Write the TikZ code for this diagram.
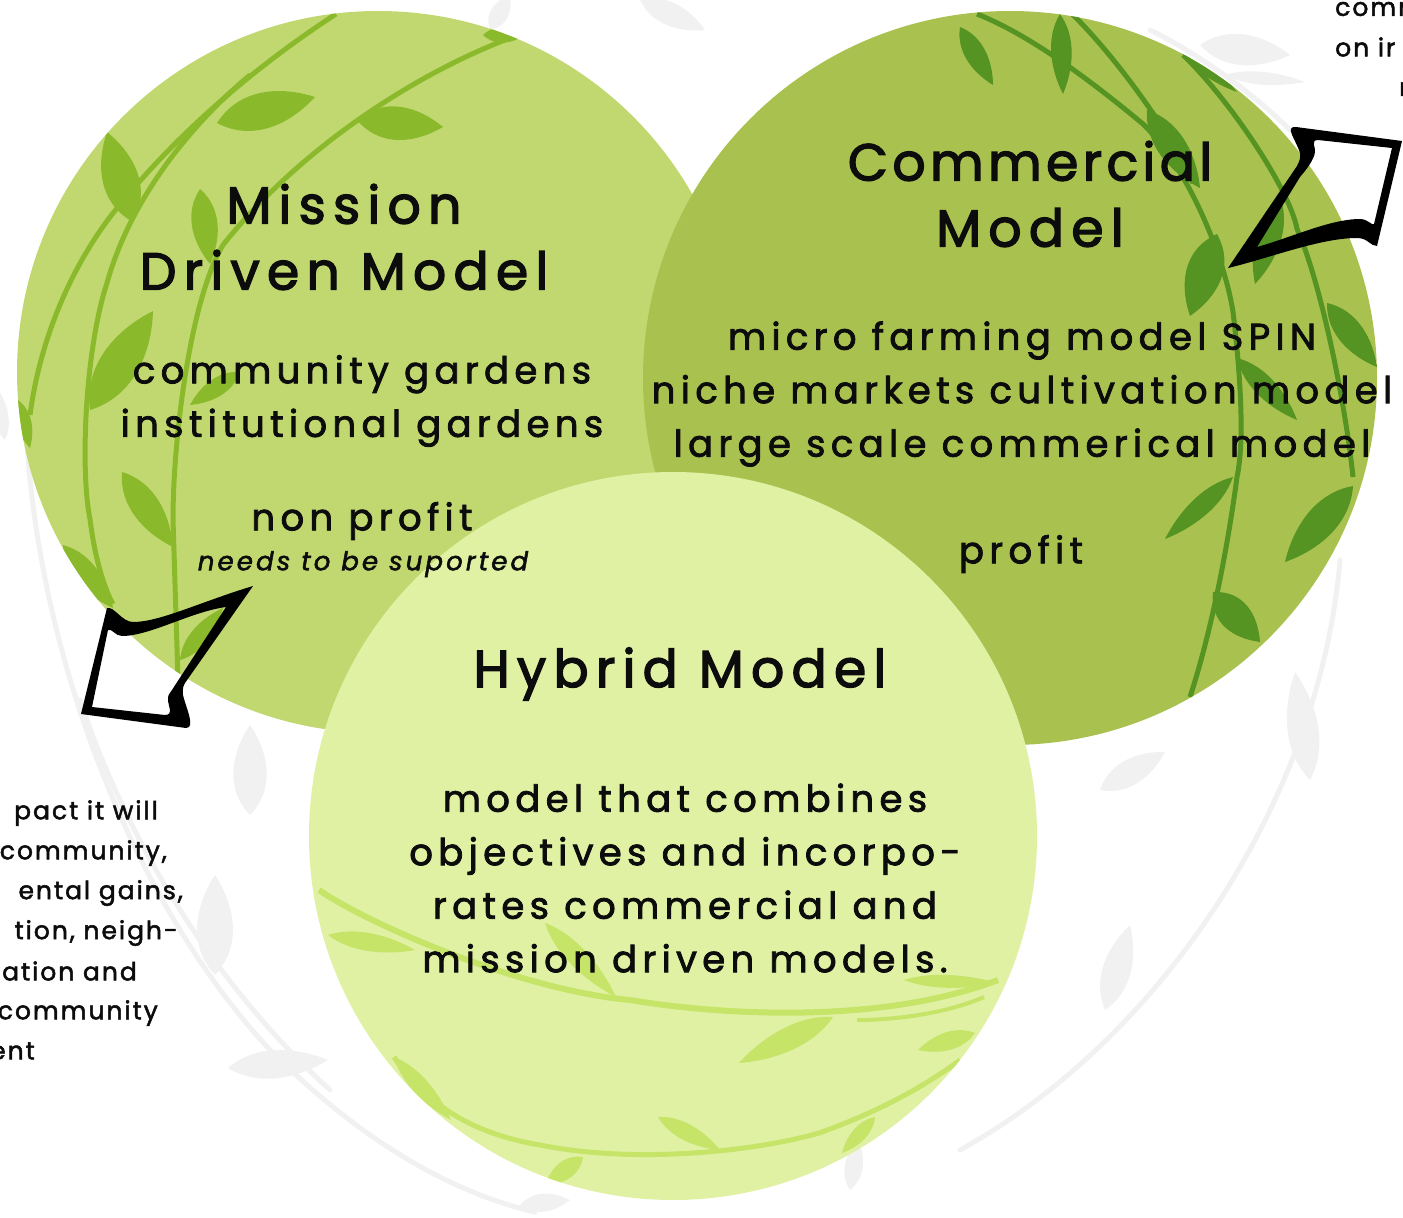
\documentclass[tikz,border=0pt]{standalone}
\usepackage{fontspec}
\usetikzlibrary{calc}
\setmainfont{Poppins}
\newfontfamily\titlefont[LetterSpace=14,FakeBold=2.6]{Poppins}
\newfontfamily\tighttitlefont[LetterSpace=8.5,FakeBold=2.6]{Poppins}
\newfontfamily\bodyfont[LetterSpace=14.5,FakeBold=2.2]{Poppins}
\newfontfamily\smallfont[LetterSpace=8,FakeBold=2]{Poppins}
\newfontfamily\notefont[LetterSpace=12,FakeBold=2]{Poppins}
\definecolor{missionbase}{HTML}{C1D870}
\definecolor{missionvine}{HTML}{8ABA2C}
\definecolor{commercebase}{HTML}{A9C24F}
\definecolor{commercevine}{HTML}{559322}
\definecolor{hybridbase}{HTML}{E0F1A4}
\definecolor{hybridvine}{HTML}{C6E468}
\definecolor{ghost}{HTML}{F1F1F1}
\definecolor{inktext}{HTML}{0C0C0C}
% leaf from tip to tip: x1 y1 x2 y2 halfwidth colour
\newcommand{\leafshape}[6]{%
  \fill[#6] (#1,#2)
    .. controls ($(#1,#2)!0.3!(#3,#4)!#5 pt!90:(#3,#4)$) and ($(#1,#2)!0.7!(#3,#4)!0.7*#5 pt!90:(#3,#4)$) .. (#3,#4)
    .. controls ($(#3,#4)!0.3!(#1,#2)!0.7*#5 pt!90:(#1,#2)$) and ($(#3,#4)!0.7!(#1,#2)!#5 pt!90:(#1,#2)$) .. (#1,#2);}
\tikzset{
  x=1pt,y=-1pt,
  titletext/.style={font=\titlefont\fontsize{52}{66}\selectfont,text=inktext,align=center,inner sep=0pt},
  bodytext/.style={font=\bodyfont\fontsize{37}{53.5}\selectfont,text=inktext,align=center,inner sep=0pt},
  smalltext/.style={font=\smallfont\fontsize{25}{40}\selectfont,text=inktext,inner sep=0pt},
  notetext/.style={font=\notefont\itshape\fontsize{26}{30}\selectfont,text=inktext,inner sep=0pt},
  ghostvine/.style={draw=ghost,line width=5pt,line cap=round},
  missionline/.style={draw=missionvine,line width=5pt},
  commerceline/.style={draw=commercevine,line width=5pt},
  hybridline/.style={draw=hybridvine,line width=6pt},
  arrowshape/.style={fill=black,even odd rule}
}
\begin{document}
\begin{tikzpicture}
\useasboundingbox (0,0) rectangle (1403,1218);
% ghost wreath behind the circles
\draw[ghostvine] (25,400) .. controls (30,640) and (130,900) .. (270,1050) .. controls (350,1130) and (440,1190) .. (535,1212);
\draw[ghostvine] (80,700) .. controls (130,850) and (220,990) .. (330,1090);
\draw[ghostvine] (1340,560) .. controls (1320,800) and (1160,1040) .. (960,1150);
\draw[ghostvine] (1150,30) .. controls (1210,60) and (1260,100) .. (1290,130);
\leafshape{250}{815}{250}{725}{26}{ghost}
\leafshape{215}{975}{215}{875}{28}{ghost}
\leafshape{1105}{1010}{1130}{925}{22}{ghost}
\leafshape{1310}{780}{1295}{672}{24}{ghost}
\leafshape{1100}{790}{1165}{752}{20}{ghost}
\leafshape{228}{1068}{328}{1060}{22}{ghost}
\leafshape{1200}{45}{1290}{55}{24}{ghost}
\leafshape{1225}{75}{1305}{82}{10}{ghost}
\leafshape{640}{0}{705}{30}{18}{ghost}
\leafshape{490}{30}{510}{-5}{14}{ghost}
\leafshape{520}{1205}{570}{1200}{14}{ghost}
\leafshape{850}{1190}{858}{1140}{14}{ghost}
\leafshape{5}{440}{-5}{385}{12}{ghost}

% mission circle
\fill[missionbase] (378,372) circle [radius=361];
\begin{scope}
\clip (378,372) circle [radius=361];
\draw[missionline] (336,14) .. controls (250,70) and (170,140) .. (110,217) .. controls (70,270) and (40,340) .. (30,415);
\draw[missionline] (510,38) .. controls (400,80) and (290,160) .. (223,245) .. controls (190,300) and (173,440) .. (173,519) -- (178,680);
\draw[missionline] (250,75) .. controls (190,125) and (130,200) .. (107,283) .. controls (85,350) and (80,470) .. (90,519) .. controls (95,560) and (105,590) .. (113,604);
\leafshape{133}{222}{107}{132}{28}{missionvine}
\leafshape{217}{123}{315}{97}{28}{missionvine}
\leafshape{357}{120}{443}{127}{26}{missionvine}
\leafshape{200}{189}{210}{264}{20}{missionvine}
\leafshape{90}{410}{153}{311}{30}{missionvine}
\leafshape{240}{372}{190}{405}{14}{missionvine}
\leafshape{122}{472}{173}{547}{22}{missionvine}
\leafshape{63}{545}{113}{608}{18}{missionvine}
\leafshape{18}{400}{30}{448}{12}{missionvine}
\leafshape{483}{35}{525}{35}{12}{missionvine}
\leafshape{180}{660}{223}{608}{14}{missionvine}
\end{scope}

% commercial circle
\fill[commercebase] (1010,378) circle [radius=367];
\begin{scope}
\clip (1010,378) circle [radius=367];
\draw[commerceline] (977,14) .. controls (1030,35) and (1090,80) .. (1143,124) .. controls (1190,170) and (1225,260) .. (1233,312) .. controls (1240,370) and (1245,440) .. (1237,477) .. controls (1230,530) and (1215,620) .. (1190,697);
\draw[commerceline] (1070,12) .. controls (1110,50) and (1170,130) .. (1193,183);
\draw[commerceline] (1183,55) .. controls (1230,100) and (1290,190) .. (1297,229) .. controls (1320,280) and (1345,400) .. (1353,477);
\leafshape{960}{27}{993}{85}{16}{commercevine}
\leafshape{1060}{14}{1063}{94}{16}{commercevine}
\leafshape{1147}{110}{1200}{188}{22}{commercevine}
\leafshape{1217}{234}{1190}{316}{28}{commercevine}
\leafshape{1280}{197}{1255}{284}{20}{commercevine}
\leafshape{1327}{303}{1377}{367}{20}{commercevine}
\leafshape{1237}{358}{1297}{420}{16}{commercevine}
\leafshape{1233}{477}{1165}{539}{15}{commercevine}
\leafshape{1353}{486}{1285}{562}{24}{commercevine}
\leafshape{1213}{592}{1260}{642}{24}{commercevine}
\leafshape{1180}{50}{1237}{92}{9}{commercevine}
\end{scope}

% hybrid circle
\fill[hybridbase] (673,836) circle [radius=364];
\begin{scope}
\clip (673,836) circle [radius=364];
\draw[hybridline] (319,890) .. controls (370,925) and (520,990) .. (630,1000) .. controls (720,1015) and (880,1025) .. (998,980);
\draw[hybridline,line width=4pt] (857,1020) .. controls (900,1020) and (950,1012) .. (984,997);
\draw[hybridline,line width=5pt] (394,1057) .. controls (430,1110) and (480,1135) .. (540,1145) .. controls (640,1165) and (760,1150) .. (819,1133) .. controls (870,1115) and (920,1090) .. (960,1060);
\leafshape{328}{935}{415}{950}{14}{hybridvine}
\leafshape{545}{923}{616}{997}{15}{hybridvine}
\leafshape{833}{1017}{739}{1063}{18}{hybridvine}
\leafshape{975}{1033}{918}{1050}{14}{hybridvine}
\leafshape{904}{980}{998}{983}{10}{hybridvine}
\leafshape{394}{1057}{451}{1120}{13}{hybridvine}
\leafshape{658}{1117}{720}{1150}{13}{hybridvine}
\leafshape{583}{1157}{545}{1185}{14}{hybridvine}
\leafshape{875}{1117}{842}{1153}{11}{hybridvine}
\end{scope}

% main labels
\node[titletext] (missiontitle) at (344,237) {Mission\\Driven Model};
\node[bodytext] (missionbody) at (362,401) {community gardens\\institutional gardens};
\node[bodytext] (missionprofit) at (362,521) {non profit};
\node[notetext] (missionnote) at (363,564) {needs to be suported};
\node[titletext] (commercetitle) at (1030,194) {{\tighttitlefont Commercial}\\Model};
\node[bodytext] (commercebody) at (1022,394) {micro farming model SPIN\\niche markets cultivation model\\large scale commerical model};
\node[bodytext] (commerceprofit) at (1021,554) {profit};
\node[titletext] (hybridtitle) at (680,674) {Hybrid Model};
\node[bodytext] (hybridbody) at (685,878) {model that combines\\objectives and incorpo-\\rates commercial and\\mission driven models.};

% side notes
\node[smalltext,anchor=east] (la) at (158,813) {pact it will};
\node[smalltext,anchor=east] (lb) at (167,853) {community,};
\node[smalltext,anchor=east] (lc) at (183,893) {ental gains,};
\node[smalltext,anchor=east] (ld) at (178,933) {tion, neigh-};
\node[smalltext,anchor=east] (le) at (137,971) {ation and};
\node[smalltext,anchor=east] (lf) at (158,1013) {community};
\node[smalltext,anchor=east] (lg) at (35,1051) {ent};
\node[smalltext,anchor=west] (ra) at (1335,9) {comm};
\node[smalltext,anchor=west] (rb) at (1335,47) {on ir};
\node[smalltext,anchor=west] (rc) at (1399,89) {m};

% hollow arrows
\fill[arrowshape]
  (253,586) .. controls (200,602) and (160,622) .. (133,622) .. controls (122,622) and (114,606) .. (107,608)
  -- (81,714) -- (186,728) .. controls (196,728) and (186,708) .. (183,695) .. controls (182,688) and (184,685) .. (185,683) -- cycle
  (226,607) .. controls (190,612) and (150,636) .. (122,636) .. controls (115,636) and (112,628) .. (108,630)
  -- (92,707) -- (165,715) .. controls (174,715) and (168,705) .. (168,700) .. controls (168,695) and (169,694) .. (170,693) -- cycle;
\fill[arrowshape]
  (1228,268) .. controls (1270,258) and (1320,238) .. (1357,238) .. controls (1368,238) and (1370,246) .. (1377,246)
  -- (1402,141) -- (1296,127) .. controls (1284,126) and (1296,140) .. (1300,153) .. controls (1301,158) and (1299,162) .. (1297,166) -- cycle
  (1257,247) .. controls (1290,238) and (1330,219) .. (1360,219) .. controls (1368,219) and (1372,226) .. (1374,224)
  -- (1392,148) -- (1318,140) .. controls (1310,140) and (1316,148) .. (1315,152) .. controls (1314,160) and (1306,170) .. (1300,177) -- cycle;
\end{tikzpicture}
\end{document}
